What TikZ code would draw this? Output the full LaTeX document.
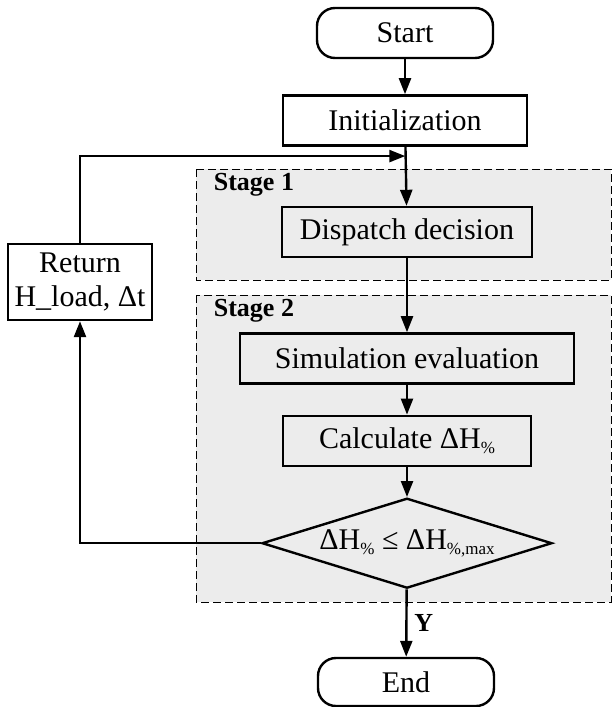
\documentclass[tikz,border=0pt]{standalone}
\usepackage{fontspec}
\setmainfont{Liberation Serif}
\usepackage{tikz}
\usetikzlibrary{shapes,shapes.geometric,arrows,arrows.meta,positioning,calc,fit,backgrounds}

\newcommand{\lowidx}[1]{\raisebox{-0.35ex}{\fontsize{8.5}{9}\selectfont #1}}

\begin{document}
\begin{tikzpicture}[
    x=0.5pt, y=-0.5pt,
    font=\fontsize{15}{17}\selectfont,
    line width=1.2pt,
    box/.style={rectangle, draw, minimum height=25pt, inner sep=2pt, align=center},
    term/.style={rectangle, draw, rounded corners=9pt, minimum width=88pt, minimum height=25pt, fill=white},
    cond/.style={diamond, draw, aspect=3.2, minimum width=145pt, minimum height=45pt, inner sep=0pt},
    stagebox/.style={draw, dash pattern=on 4pt off 2pt, line width=0.5pt, fill=gray!15},
    stagelabel/.style={font=\fontsize{13}{15}\selectfont\bfseries, anchor=west},
    arrow/.style={-{Triangle[length=8pt,width=6pt]}}
]
    % Frame
    \useasboundingbox (0,0) rectangle (612,707);

    % Stages
    \draw[stagebox] (196,169) rectangle (611,280);
    \draw[stagebox] (196,295) rectangle (611,602);
    \node[stagelabel] (s1) at (206,185) {Stage 1};
    \node[stagelabel] (s2) at (206,311) {Stage 2};

    % Flow
    \node[term] (start) at (405,33) {Start};
    \node[box, fill=white, minimum width=122pt, below=17.5pt of start] (init) {Initialization};
    \node[box, minimum width=125pt] (dispatch) at (407,232) {Dispatch decision};
    \node[box, minimum width=167pt, below=37pt of dispatch] (sim) {Simulation evaluation};
    \node[box, minimum width=124pt, below=15pt of sim] (calc) {Calculate ΔH\lowidx{\%}};
    \node[cond, below=15pt of calc] (check) {ΔH\lowidx{\%} ≤ ΔH\lowidx{\%,max}};
    \node[term, minimum height=24pt] (end) at (406,682) {End};
    \node[box, fill=white, minimum width=72pt, minimum height=38pt, inner sep=1pt] (ret) at (80,282) {Return\\H\_load, Δt};

    % Loop point
    \coordinate (merge) at ($(init.south)!0.16!(dispatch.north)$);

    % Arrows
    \draw[arrow] (start) -- (init);
    \draw[arrow] (init) -- (dispatch);
    \draw[arrow] (dispatch) -- (sim);
    \draw[arrow] (sim) -- (calc);
    \draw[arrow] (calc) -- (check);
    \draw[arrow] (check) -- node[right, font=\fontsize{13}{15}\selectfont\bfseries] {Y} (end);
    \draw[arrow] (check.west) -| (ret.south);
    \draw[arrow] (ret.north) |- (merge);
\end{tikzpicture}
\end{document}
